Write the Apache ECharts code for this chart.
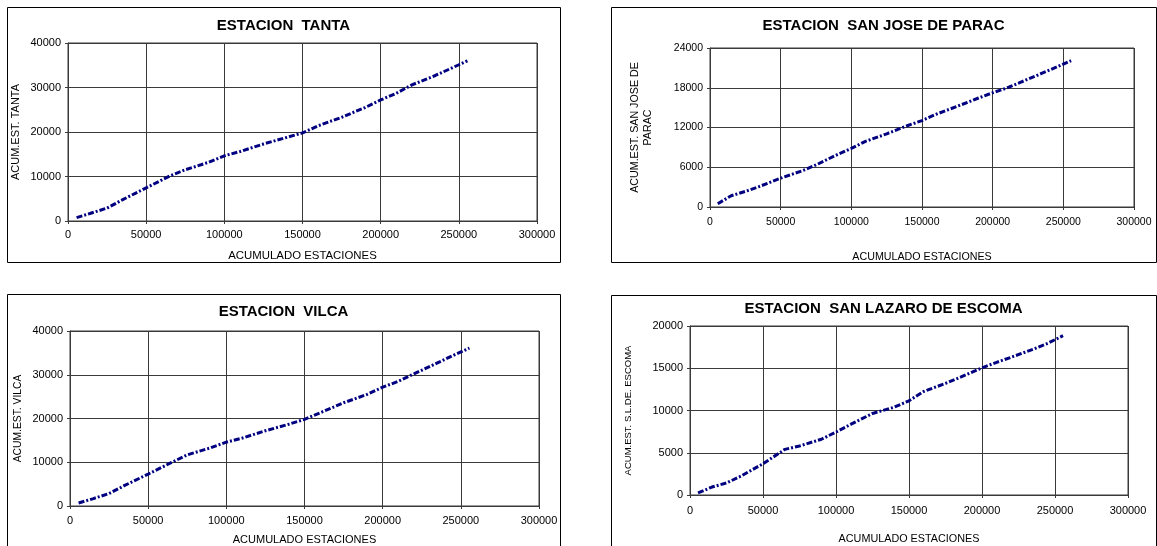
<!DOCTYPE html>
<html>
<head>
<meta charset="utf-8">
<script src="https://cdn.jsdelivr.net/npm/echarts@6/dist/echarts.min.js"></script>
<style>
  html, body { margin: 0; padding: 0; background: #ffffff; }
  #chart { width: 1157px; height: 546px; }
</style>
</head>
<body>
<div id="chart"></div>
<script>
// Doble masa: acumulado de estaciones (eje X, común) frente al acumulado de cada estación
const xAcum = [5500, 15000, 25000, 35000, 50000, 65000, 75000, 90000, 100000, 110000, 125000,
               140000, 150000, 160000, 175000, 190000, 200000, 210000, 220000, 235000, 245000, 255500];

const yTanta  = [750, 1800, 2900, 4800, 7450, 10100, 11500, 13200, 14650, 15600, 17300,
                 18800, 19800, 21400, 23300, 25500, 27200, 28700, 30600, 32700, 34300, 36000];
const yParac  = [500, 1700, 2350, 3100, 4350, 5450, 6350, 7900, 8850, 9900, 11050,
                 12300, 13050, 14000, 15200, 16450, 17250, 17950, 18850, 20200, 21100, 22100];
const yVilca  = [680, 1700, 2850, 4700, 7300, 9950, 11700, 13300, 14600, 15500, 17200,
                 18700, 19800, 21300, 23600, 25500, 27150, 28500, 30200, 32700, 34400, 36100];
const yEscoma = [250, 940, 1420, 2250, 3700, 5400, 5800, 6600, 7450, 8350, 9650,
                 10400, 11150, 12250, 13200, 14300, 15050, 15700, 16300, 17250, 17950, 18850];

const titles = ['ESTACION  TANTA', 'ESTACION  SAN JOSE DE PARAC', 'ESTACION  VILCA', 'ESTACION  SAN LAZARO DE ESCOMA'];
const yNames = ['ACUM.EST. TANTA', 'ACUM.EST. SAN JOSE DE\nPARAC', 'ACUM.EST. VILCA', 'ACUM.EST. S.L.DE. ESCOMA'];
const xName = 'ACUMULADO ESTACIONES';
const yMax = [40000, 24000, 40000, 20000];
const yStep = [10000, 6000, 10000, 5000];
const xMax = 300000, xStep = 50000;
const series = [yTanta, yParac, yVilca, yEscoma];

const FONT = '"Liberation Sans", Arial, Helvetica, sans-serif';

// layout of each panel
const panels = [
  { box: [7, 7, 553, 255],   grid: { left: 68,  top: 43,  width: 469, height: 178 }, titleY: 18,
    tick: 11, xNameSize: 11.4, yNameSize: 11, xGap: 29, yGap: 46, labM: 8 },
  { box: [611, 7, 545, 255], grid: { left: 710, top: 48,  width: 424, height: 159 }, titleY: 18,
    tick: 10.5, xNameSize: 10.7, yNameSize: 10.7, xGap: 45, yGap: 55, labM: 10 },
  { box: [7, 294, 553, 280], grid: { left: 70,  top: 331, width: 469, height: 180 }, titleY: 304,
    tick: 11, xNameSize: 11, yNameSize: 10.3, xGap: 28, yGap: 45, labM: 9 },
  { box: [611, 295, 545, 280], grid: { left: 690, top: 326, width: 438, height: 177 }, titleY: 301,
    tick: 11, xNameSize: 10.8, yNameSize: 9.5, xGap: 39, yGap: 55, labM: 10 }
];

const gridColor = '#3a3a3a';
const plain = v => String(v);

const option = {
  backgroundColor: '#ffffff',
  animation: false,
  title: panels.map((p, i) => ({
    text: titles[i],
    left: p.box[0] + p.box[2] / 2,
    top: p.titleY,
    textAlign: 'center',
    padding: 0,
    textStyle: { fontFamily: FONT, fontSize: 15, fontWeight: 'bold', color: '#000' }
  })),
  grid: panels.map(p => Object.assign({ show: true, borderColor: gridColor, borderWidth: 1,
                                        backgroundColor: '#fff' }, p.grid)),
  xAxis: panels.map((p, i) => ({
    type: 'value', gridIndex: i, min: 0, max: xMax, interval: xStep,
    name: xName, nameLocation: 'middle', nameGap: p.xGap,
    nameTextStyle: { fontFamily: FONT, fontSize: p.xNameSize, color: '#000' },
    axisLine: { show: true, lineStyle: { color: gridColor, width: 1 } },
    axisTick: { show: true, length: 3, lineStyle: { color: gridColor } },
    axisLabel: { fontFamily: FONT, fontSize: p.tick, color: '#000', margin: p.labM, formatter: plain },
    splitLine: { show: true, lineStyle: { color: gridColor, width: 1 } }
  })),
  yAxis: panels.map((p, i) => ({
    type: 'value', gridIndex: i, min: 0, max: yMax[i], interval: yStep[i],
    name: yNames[i], nameLocation: 'middle', nameGap: p.yGap, nameRotate: 90,
    nameTextStyle: { fontFamily: FONT, fontSize: p.yNameSize, color: '#000', lineHeight: 13, align: 'center' },
    axisLine: { show: true, lineStyle: { color: gridColor, width: 1 } },
    axisTick: { show: true, length: 3, lineStyle: { color: gridColor } },
    axisLabel: { fontFamily: FONT, fontSize: p.tick, color: '#000', margin: 7, formatter: plain },
    splitLine: { show: true, lineStyle: { color: gridColor, width: 1 } }
  })),
  series: series.map((ys, i) => ({
    type: 'line', xAxisIndex: i, yAxisIndex: i,
    data: xAcum.map((x, k) => [x, ys[k]]),
    showSymbol: false, smooth: false,
    lineStyle: { color: '#000080', width: 3, type: [6, 2, 2, 2], cap: 'butt' }
  })),
  graphic: panels.map(p => ({
    type: 'rect', silent: true, z: 100,
    shape: { x: p.box[0] + 0.5, y: p.box[1] + 0.5, width: p.box[2], height: p.box[3] },
    style: { fill: 'none', stroke: '#000', lineWidth: 1 }
  }))
};

const chart = echarts.init(document.getElementById('chart'), null, { renderer: 'canvas' });
chart.setOption(option);
</script>
</body>
</html>
